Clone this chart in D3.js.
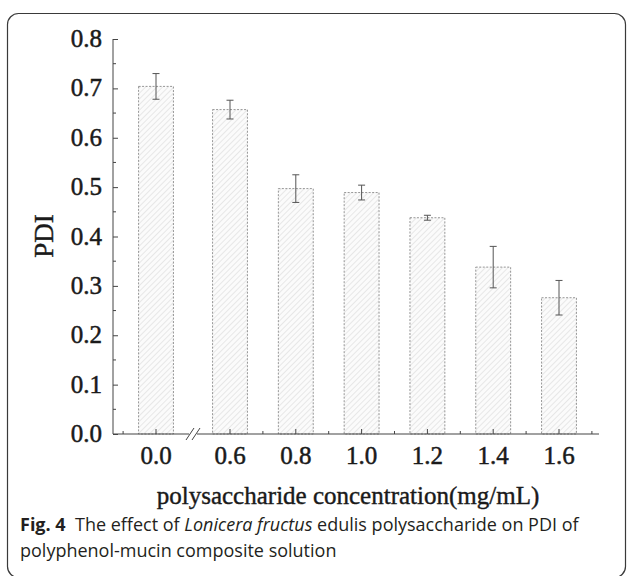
<!DOCTYPE html>
<html>
<head>
<meta charset="utf-8">
<script src="https://cdn.jsdelivr.net/npm/d3@7"></script>
<style>
  body { margin: 0; background: #fff; }
  svg { display: block; }
</style>
</head>
<body>
<div id="chart"></div>
<script>
// data
const categories = ['0.0', '0.6', '0.8', '1.0', '1.2', '1.4', '1.6'];
const pdiValues = [0.704, 0.657, 0.497, 0.489, 0.438, 0.338, 0.276];
const pdiErrors = [0.026, 0.019, 0.028, 0.015, 0.005, 0.042, 0.035];
const yTicks = [0.0, 0.1, 0.2, 0.3, 0.4, 0.5, 0.6, 0.7, 0.8];

const width = 627, height = 576;
const serif = '"Liberation Serif", "DejaVu Serif", serif';
const svg = d3.select('#chart').append('svg')
  .attr('width', width)
  .attr('height', height);

// hatch pattern for bars
const defs = svg.append('defs');
const pat = defs.append('pattern')
  .attr('id', 'hatch')
  .attr('patternUnits', 'userSpaceOnUse')
  .attr('width', 4).attr('height', 4)
  .attr('patternTransform', 'rotate(45)');
pat.append('rect').attr('width', 4).attr('height', 4).attr('fill', '#fbfbfb');
pat.append('line')
  .attr('x1', 0).attr('y1', 0).attr('x2', 0).attr('y2', 4)
  .attr('stroke', '#d4d4d4').attr('stroke-width', 1);

// frame
svg.append('rect')
  .attr('x', 7.5).attr('y', 13.5)
  .attr('width', 618).attr('height', 564)
  .attr('rx', 11).attr('ry', 11)
  .attr('fill', 'none')
  .attr('stroke', '#3a3a3a')
  .attr('stroke-width', 1.2);

// scales
const y = d3.scaleLinear().domain([0, 0.8]).range([434, 39]);
const xAxisLeft = 113, xAxisRight = 599;
// concentration axis with a break between 0.0 and 0.6
const xr = d3.scaleLinear().domain([0.6, 1.6]).range([230, 559]);
const xPos = c => {
  const v = +c;
  return v === 0 ? xr(0.6) - 74 : xr(v);
};
const step = xr(0.8) - xr(0.6);
const barW = step * 0.53;

const g = svg.append('g');

// bars
g.selectAll('.bar')
  .data(categories)
  .enter()
  .append('rect')
  .attr('class', 'bar')
  .attr('x', d => xPos(d) - barW / 2)
  .attr('y', (d, i) => y(pdiValues[i]))
  .attr('width', barW)
  .attr('height', (d, i) => y(0) - y(pdiValues[i]))
  .attr('fill', 'url(#hatch)')
  .attr('stroke', '#8a8a8a')
  .attr('stroke-width', 0.9)
  .attr('stroke-dasharray', '2,1.5');

// error bars
const errG = g.append('g').attr('class', 'errors')
  .attr('stroke', '#555').attr('stroke-width', 1);
categories.forEach((c, i) => {
  const cx = xPos(c);
  const top = y(pdiValues[i] + pdiErrors[i]);
  const bot = y(pdiValues[i] - pdiErrors[i]);
  errG.append('line').attr('x1', cx).attr('x2', cx).attr('y1', top).attr('y2', bot);
  errG.append('line').attr('x1', cx - 3.5).attr('x2', cx + 3.5).attr('y1', top).attr('y2', top);
  errG.append('line').attr('x1', cx - 3.5).attr('x2', cx + 3.5).attr('y1', bot).attr('y2', bot);
});

// y axis (ticks pointing inward)
const yAxis = d3.axisRight(y)
  .tickValues(yTicks)
  .tickSize(5)
  .tickFormat('');
const yAxisG = g.append('g')
  .attr('transform', `translate(${xAxisLeft},0)`)
  .call(yAxis);
yAxisG.select('.domain').attr('d', `M0,${y(0.8)}V${y(0)}`);
// minor y ticks
yAxisG.selectAll('.minor')
  .data(d3.range(0.05, 0.8, 0.1))
  .enter()
  .append('line')
  .attr('class', 'minor')
  .attr('x1', 0).attr('x2', 3)
  .attr('y1', d => y(d)).attr('y2', d => y(d))
  .attr('stroke', '#333');
yAxisG.selectAll('line, path').attr('stroke', '#444').attr('stroke-width', 1);

// y tick labels
g.selectAll('.ylab')
  .data(yTicks)
  .enter()
  .append('text')
  .attr('class', 'ylab')
  .attr('x', 102)
  .attr('y', d => y(d) + 8)
  .attr('text-anchor', 'end')
  .style('font-family', serif)
  .style('font-size', '25px')
  .style('fill', '#1a1a1a')
  .style('stroke', '#1a1a1a')
  .style('stroke-width', 0.5)
  .text(d => d.toFixed(1));

// x axis line
const xg = g.append('g').attr('class', 'x-axis')
  .attr('stroke', '#444').attr('stroke-width', 1.2);
xg.append('line')
  .attr('x1', xAxisLeft).attr('x2', xAxisRight)
  .attr('y1', y(0)).attr('y2', y(0));
// major ticks (inward)
categories.forEach(c => {
  xg.append('line')
    .attr('x1', xPos(c)).attr('x2', xPos(c))
    .attr('y1', y(0)).attr('y2', y(0) - 5)
    .attr('stroke-width', 1);
});
// minor ticks
const minorRight = [0.7, 0.9, 1.1, 1.3, 1.5, 1.7];
minorRight.forEach(v => {
  xg.append('line')
    .attr('x1', xr(v)).attr('x2', xr(v))
    .attr('y1', y(0)).attr('y2', y(0) - 3)
    .attr('stroke-width', 1);
});
xg.append('line')
  .attr('x1', xPos('0.0') - step / 2).attr('x2', xPos('0.0') - step / 2)
  .attr('y1', y(0)).attr('y2', y(0) - 3)
  .attr('stroke-width', 1);

// axis break "//"
const bx = (xPos('0.0') + xr(0.6)) / 2;
g.append('rect')
  .attr('x', bx - 4).attr('y', y(0) - 3)
  .attr('width', 8).attr('height', 6)
  .attr('fill', '#fff');
[-3, 3].forEach(dx => {
  g.append('line')
    .attr('x1', bx + dx - 4).attr('y1', y(0) + 6)
    .attr('x2', bx + dx + 4).attr('y2', y(0) - 6)
    .attr('stroke', '#444').attr('stroke-width', 1);
});

// x tick labels
g.selectAll('.xlab')
  .data(categories)
  .enter()
  .append('text')
  .attr('class', 'xlab')
  .attr('x', d => xPos(d))
  .attr('y', 464)
  .attr('text-anchor', 'middle')
  .style('font-family', serif)
  .style('font-size', '25px')
  .style('fill', '#1a1a1a')
  .style('stroke', '#1a1a1a')
  .style('stroke-width', 0.5)
  .text(d => d);

// axis titles
g.append('text')
  .attr('x', 348).attr('y', 504)
  .attr('text-anchor', 'middle')
  .style('font-family', serif)
  .style('font-size', '25px')
  .style('fill', '#1a1a1a')
  .style('stroke', '#1a1a1a')
  .style('stroke-width', 0.4)
  .text('polysaccharide concentration(mg/mL)');

g.append('text')
  .attr('transform', `translate(53,236) rotate(-90)`)
  .attr('text-anchor', 'middle')
  .style('font-family', serif)
  .style('font-size', '27px')
  .style('fill', '#1a1a1a')
  .style('stroke', '#1a1a1a')
  .style('stroke-width', 0.4)
  .text('PDI');

// caption
const cap = svg.append('text')
  .attr('x', 20).attr('y', 531)
  .style('font-family', '"Open Sans", "Noto Sans", sans-serif')
  .style('font-size', '18px')
  .style('fill', '#231f20');
cap.append('tspan').style('font-weight', 'bold').text('Fig. 4');
cap.append('tspan').text('\u00a0\u00a0The effect of ');
cap.append('tspan').style('font-style', 'italic').text('Lonicera fructus');
cap.append('tspan').text(' edulis polysaccharide on PDI of');

svg.append('text')
  .attr('x', 20).attr('y', 557)
  .style('font-family', '"Open Sans", "Noto Sans", sans-serif')
  .style('font-size', '18px')
  .style('fill', '#231f20')
  .text('polyphenol-mucin composite solution');
</script>
</body>
</html>
